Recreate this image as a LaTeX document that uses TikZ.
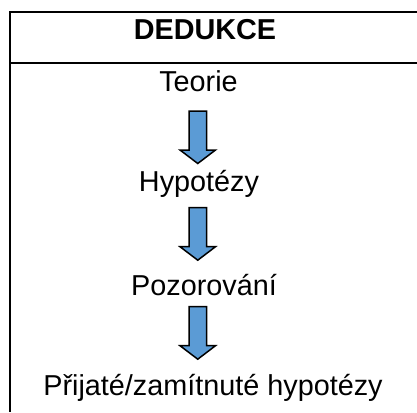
\documentclass[tikz,border=0pt]{standalone}
\usepackage{fontspec}
\setmainfont{Liberation Sans}
\definecolor{arrowblue}{HTML}{5B9BD5}
\begin{document}
\begin{tikzpicture}[x=1pt,y=-1pt,
  rule/.style={line width=2.2pt},
  lbl/.style={anchor=base,inner sep=0pt,font=\fontsize{28.8}{32}\selectfont},
  downarrow/.style={draw=black,line width=1.5pt,fill=arrowblue,line join=miter}]
\useasboundingbox (0,0) rectangle (417,412);
% frame
\coordinate (tl) at (10,12);
\coordinate (tr) at (417,12);
\coordinate (hl) at (10,63.3);
\coordinate (hr) at (417,63.3);
\coordinate (bl) at (10,412);
\draw[rule] (tr) -- (tl) -- (bl);
\draw[rule] (hl) -- (hr);
% texts
\node[lbl,font=\fontsize{28.8}{32}\selectfont\bfseries] (title) at (205,40) {DEDUKCE};
\node[lbl] (t1) at (198.5,91.7) {Teorie};
\node[lbl] (t2) at (199,191.7) {Hypotézy};
\node[lbl] (t3) at (204,295) {Pozorování};
\node[lbl] (t4) at (213,395) {Přijaté/zamítnuté hypotézy};
% arrows
\foreach \n/\top in {a1/111, a2/207.7, a3/306.7}{
  \draw[downarrow] (189,\top) -- (206.5,\top) -- (206.5,\top+39) -- (215.5,\top+39)
     -- (197.75,\top+52.5) -- (180,\top+39) -- (189,\top+39) -- cycle;
}
\end{tikzpicture}
\end{document}
